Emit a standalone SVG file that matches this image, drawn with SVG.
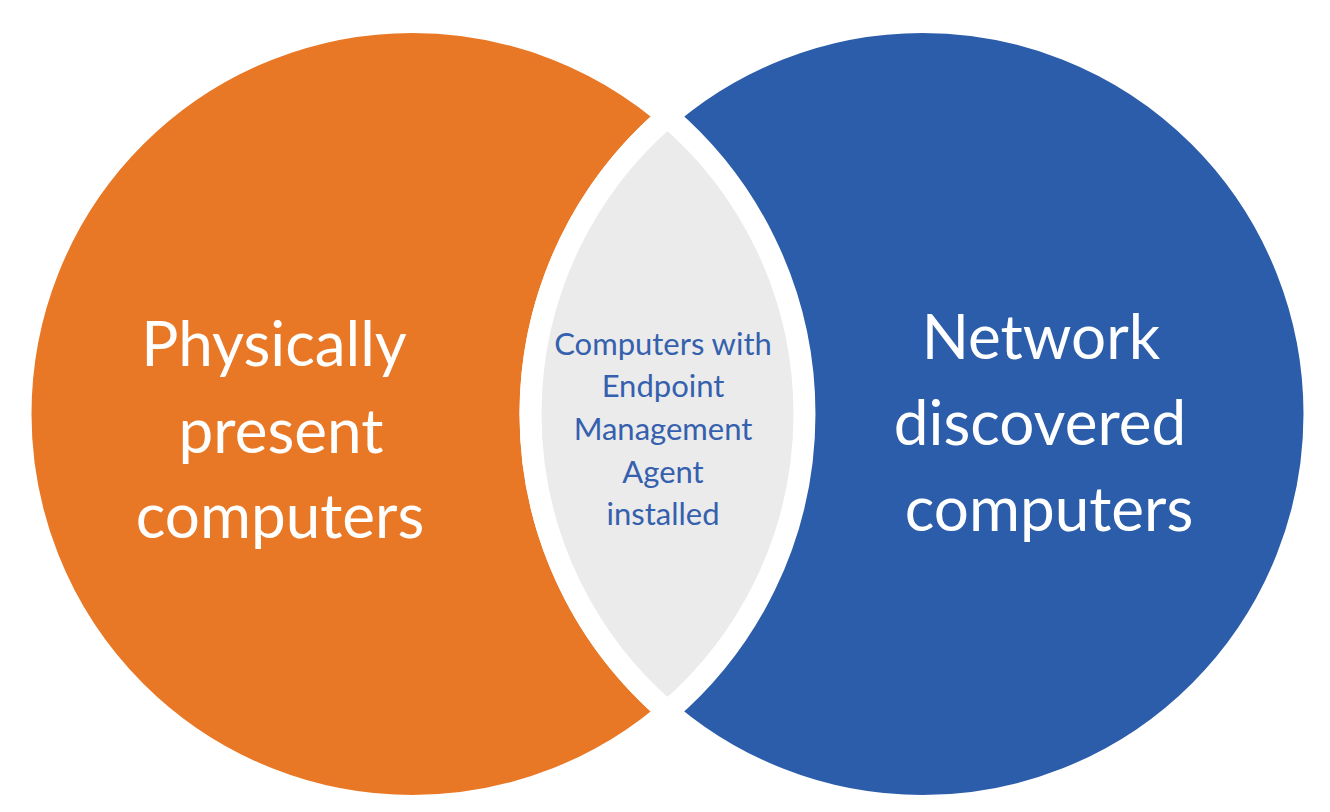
<svg xmlns="http://www.w3.org/2000/svg" width="1330" height="812" viewBox="0 0 1330 812">
<style>
.ring{fill:none;stroke-width:1.5;stroke-dasharray:8 5}
.set{stroke:#ffffff;stroke-width:22}
.big{font-family:Lato,"Open Sans","Liberation Sans",sans-serif;font-weight:400;font-size:62px;fill:#ffffff;text-anchor:middle}
.small{font-family:Lato,"Open Sans","Liberation Sans",sans-serif;font-size:31px;fill:#3560ae;text-anchor:middle}
</style>
<rect width="1330" height="812" fill="#ffffff"/>
<g id="rings">
<circle class="ring" cx="412.5" cy="414" r="401" stroke="#f4d2b9"/>
<circle class="ring" cx="922.5" cy="414" r="401" stroke="#c9d5ec"/>
</g>
<g id="physical">
<circle class="set" cx="412.5" cy="414" r="392" fill="#e97826"/>
</g>
<g id="network">
<circle class="set" cx="922.5" cy="414" r="392" fill="#2c5daa"/>
</g>
<g id="agent">
<path class="set" d="M 667.5 116.3 A 392 392 0 0 0 667.5 711.7 A 392 392 0 0 0 667.5 116.3 Z" fill="#ebebeb" stroke-linejoin="round"/>
</g>
<g id="labels">
<text class="big" x="274" y="366">Physically</text>
<text class="big" x="281" y="453">present</text>
<text class="big" x="280" y="538">computers</text>
<text class="big" x="1041" y="359">Network</text>
<text class="big" x="1040" y="445">discovered</text>
<text class="big" x="1049" y="531">computers</text>
<text class="small" x="663" y="355">Computers with</text>
<text class="small" x="663" y="397">Endpoint</text>
<text class="small" x="663" y="440">Management</text>
<text class="small" x="663" y="483">Agent</text>
<text class="small" x="663" y="525">installed</text>
</g>
<g id="connectors"></g>
</svg>
